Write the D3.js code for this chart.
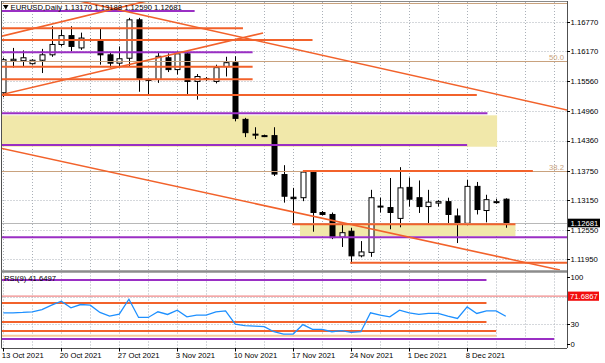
<!DOCTYPE html>
<html>
<head>
<meta charset="utf-8">
<script src="https://cdn.jsdelivr.net/npm/d3@7"></script>
<style>
  html, body { margin: 0; padding: 0; background: #fff; }
  svg { display: block; font-family: "Liberation Sans", Arial, sans-serif; font-size: 7.7px; }
</style>
</head>
<body>
<script>
// daily bars, 13 Oct 2021 .. 13 Dec 2021 (Sunday bars included)
const open = [1.1533, 1.1598, 1.1598, 1.1592, 1.1599, 1.1610, 1.1631, 1.1649, 1.1624, 1.1641,
  1.1637, 1.1610, 1.1593, 1.1603, 1.1681, 1.1558, 1.1560, 1.1604, 1.1580, 1.1612,
  1.1556, 1.1562, 1.1556, 1.1586, 1.1594, 1.1479, 1.1449, 1.1446, 1.1446, 1.1367,
  1.1321, 1.1320, 1.1372, 1.1290, 1.1286, 1.1240, 1.1252, 1.1202, 1.1209, 1.1301,
  1.1300, 1.1278, 1.1341, 1.1320, 1.1302, 1.1309, 1.1312, 1.1283, 1.1268, 1.1343,
  1.1294, 1.1310, 1.13170];
const high = [1.1604, 1.1624, 1.1619, 1.1601, 1.1622, 1.1668, 1.1661, 1.1668, 1.1655, 1.1643,
  1.1664, 1.1614, 1.1627, 1.1685, 1.1685, 1.1562, 1.1616, 1.1613, 1.1617, 1.1616,
  1.1571, 1.1565, 1.1590, 1.1606, 1.1607, 1.1482, 1.1463, 1.1448, 1.1463, 1.1386,
  1.1340, 1.1375, 1.1375, 1.1293, 1.1290, 1.1270, 1.1259, 1.1232, 1.1336, 1.1320,
  1.1360, 1.1382, 1.1361, 1.1355, 1.1336, 1.1315, 1.1320, 1.1298, 1.1356, 1.1352,
  1.1326, 1.1318, 1.13188];
const low = [1.1524, 1.1584, 1.1587, 1.1590, 1.1573, 1.1606, 1.1627, 1.1617, 1.1620, 1.1637,
  1.1590, 1.1584, 1.1584, 1.1587, 1.1535, 1.1530, 1.1553, 1.1575, 1.1570, 1.1529,
  1.1519, 1.1557, 1.1552, 1.1566, 1.1475, 1.1443, 1.1439, 1.1443, 1.1364, 1.1310,
  1.1266, 1.1313, 1.1251, 1.1284, 1.1236, 1.1220, 1.1186, 1.1199, 1.1200, 1.1290,
  1.1256, 1.1260, 1.1302, 1.1289, 1.1265, 1.1302, 1.1268, 1.1228, 1.1264, 1.1286,
  1.1270, 1.1308, 1.12590];
const close = [1.1600, 1.1601, 1.1604, 1.1599, 1.1610, 1.1631, 1.1649, 1.1627, 1.1644, 1.1640,
  1.1610, 1.1593, 1.1602, 1.1681, 1.1560, 1.1560, 1.1607, 1.1580, 1.1612, 1.1556,
  1.1566, 1.1560, 1.1584, 1.1594, 1.1481, 1.1452, 1.1447, 1.1445, 1.1368, 1.1323,
  1.1318, 1.1372, 1.1290, 1.1286, 1.1239, 1.1249, 1.1202, 1.1210, 1.1320, 1.1303,
  1.1290, 1.1340, 1.1317, 1.1302, 1.1311, 1.1312, 1.1286, 1.1269, 1.1343, 1.1296,
  1.1316, 1.1312, 1.12681];
const rsi = [46.8, 46.8, 47.3, 48.3, 51.7, 58.2, 64.2, 54.2, 59.2, 58.2,
  47.3, 41.8, 44.8, 67.2, 39.8, 39.8, 48.3, 44.3, 50.7, 40.8,
  43.3, 43.3, 48.3, 49.7, 29.9, 27.4, 26.9, 25.9, 18.4, 14.9,
  14.9, 29.0, 21.9, 21.9, 18.4, 19.9, 17.4, 18.4, 46.8, 43.3,
  40.8, 50.7, 46.8, 44.3, 45.8, 45.8, 41.8, 38.3, 55.7, 45.8,
  49.7, 49.7, 41.6];

const dateLabels = ["13 Oct 2021", "20 Oct 2021", "27 Oct 2021", "3 Nov 2021", "10 Nov 2021",
  "17 Nov 2021", "24 Nov 2021", "1 Dec 2021", "8 Dec 2021"];
const dateBars = [0, 6, 12, 18, 24, 30, 36, 42, 48];
const priceTicks = [1.16770, 1.16170, 1.15560, 1.14960, 1.14360, 1.13750, 1.13150, 1.12550, 1.11950];
const rsiTicks = [100, 30, 0];

// drawn objects: [price, fromBar, toBar]
const orangeLevels = [[1.16638, -1, 24.8], [1.16401, -1, 32.0], [1.15859, -1, 25.8], [1.15603, -1, 25.8],
  [1.15284, -1, 49.0], [1.13742, 31.0, 54.8], [1.12660, 29.9, 53.0], [1.11881, 35.9, 60]];
const purpleLevels = [[1.16989, -1, 19.8], [1.16151, -1, 25.8], [1.14913, -1, 50.1], [1.14270, -1, 48.0],
  [1.12396, -1, 60]];
const fibLevels = [1.17158, 1.15974, 1.13742];
const fibNames = ["0.0", "50.0", "38.2"];
// [priceTop, priceBottom, fromBar, toBar]
const zones = [[1.14872, 1.14235, -1, 51.1], [1.12646, 1.12423, 30.7, 53.0]];
// [bar1, price1, bar2, price2]
const trendLines = [[-0.34, 1.16468, 15.29, 1.17212], [7.42, 1.17212, 58.34, 1.14980],
  [-0.34, 1.15284, 26.88, 1.16543], [-0.34, 1.14209, 57.6, 1.11732]];
const bid = 1.12681;

// RSI window objects: [value, fromBar, toBar]
const rsiOrange = [[61.5, -1, 50.0], [33.0, -1, 50.0], [19.5, -1, 51.0]];
const rsiPeach = [[12.4, -1, 51.0]];
const rsiPurple = [[96.0, -1, 50.0], [7.5, -1, 57.0]];
const rsiMarker = 71.6867;
const rsiDotted = [70, 30];

const orange = "#f2622b", purple = "#9a2fc4", tan = "#c9a27e", gridC = "#aab0b8";

const plotL = 1.5, plotR = 567, mainT = 2, mainB = 270.5, rsiT = 272.5, rsiB = 348;

const x = d3.scaleLinear().domain([0, 52]).range([3.3, 505.8]);
const y = d3.scaleLinear().domain([1.1195, 1.1677]).range([259.3, 21.8]);
const yr = d3.scaleLinear().domain([0, 100]).range([344, 277.3]);
const px = v => Math.round(v) + 0.5;

const svg = d3.select("body").append("svg").attr("width", 605).attr("height", 363);
const defs = svg.append("defs");
defs.append("clipPath").attr("id", "cm").append("rect")
  .attr("x", plotL).attr("y", mainT).attr("width", plotR - plotL).attr("height", mainB - mainT);
defs.append("clipPath").attr("id", "cr").append("rect")
  .attr("x", plotL).attr("y", rsiT).attr("width", plotR - plotL).attr("height", rsiB - rsiT);

const main = svg.append("g").attr("clip-path", "url(#cm)");
const low2 = svg.append("g").attr("clip-path", "url(#cr)");

// grid
const gridBars = d3.range(0, 61, 3);
[[main, mainT, mainB], [low2, rsiT, rsiB]].forEach(([g, t, b]) => {
  g.selectAll(".vg").data(gridBars).join("line")
    .attr("x1", d => px(x(d))).attr("x2", d => px(x(d)))
    .attr("y1", t).attr("y2", b)
    .attr("stroke", gridC).attr("stroke-width", 1).attr("stroke-dasharray", "1,2");
});
main.selectAll(".hg").data(priceTicks).join("line")
  .attr("x1", plotL).attr("x2", plotR)
  .attr("y1", d => px(y(d))).attr("y2", d => px(y(d)))
  .attr("stroke", gridC).attr("stroke-width", 1).attr("stroke-dasharray", "1,2");

// zones (background)
main.selectAll(".zone").data(zones).join("rect")
  .attr("x", d => x(d[2])).attr("width", d => x(d[3]) - x(d[2]))
  .attr("y", d => y(d[0])).attr("height", d => y(d[1]) - y(d[0]))
  .attr("fill", "#f1e8aa");

// candles
const idx = d3.range(close.length);
main.selectAll(".wick").data(idx).join("line")
  .attr("x1", i => px(x(i))).attr("x2", i => px(x(i)))
  .attr("y1", i => y(high[i])).attr("y2", i => y(low[i]))
  .attr("stroke", "#000").attr("stroke-width", 1);
main.selectAll(".body").data(idx).join("rect")
  .attr("x", i => Math.round(x(i)) - 2)
  .attr("width", 5)
  .attr("y", i => y(Math.max(open[i], close[i])))
  .attr("height", i => Math.max(1, Math.abs(y(open[i]) - y(close[i]))))
  .attr("fill", i => close[i] >= open[i] ? "#fff" : "#000")
  .attr("stroke", "#000").attr("stroke-width", 1);

// fibo levels
main.selectAll(".fib").data(fibLevels).join("line")
  .attr("x1", plotL).attr("x2", plotR)
  .attr("y1", d => px(y(d))).attr("y2", d => px(y(d)))
  .attr("stroke", tan).attr("stroke-width", 1);
main.selectAll(".fibt").data(fibLevels).join("text")
  .attr("x", plotR - 3).attr("y", d => y(d) - 1.5)
  .attr("text-anchor", "end").attr("fill", tan)
  .text((d, i) => fibNames[i]);

// bid line
main.append("line")
  .attr("x1", plotL).attr("x2", plotR)
  .attr("y1", px(y(bid))).attr("y2", px(y(bid)))
  .attr("stroke", "#b8b8b8").attr("stroke-width", 1);

// horizontal objects
function levels(g, data, sc, color, w) {
  g.append("g").selectAll("line").data(data).join("line")
    .attr("x1", d => x(d[1])).attr("x2", d => x(d[2]))
    .attr("y1", d => sc(d[0])).attr("y2", d => sc(d[0]))
    .attr("stroke", color).attr("stroke-width", w);
}
levels(main, purpleLevels, y, purple, 2);
levels(main, orangeLevels, y, orange, 2);

// trend lines
main.selectAll(".trend").data(trendLines).join("line")
  .attr("x1", d => x(d[0])).attr("y1", d => y(d[1]))
  .attr("x2", d => x(d[2])).attr("y2", d => y(d[3]))
  .attr("stroke", orange).attr("stroke-width", 1.6);

// RSI window
low2.selectAll(".lvl").data(rsiDotted).join("line")
  .attr("x1", plotL).attr("x2", plotR)
  .attr("y1", d => px(yr(d))).attr("y2", d => px(yr(d)))
  .attr("stroke", gridC).attr("stroke-width", 1).attr("stroke-dasharray", "1,2");
low2.append("line")
  .attr("x1", plotL).attr("x2", plotR)
  .attr("y1", yr(rsiMarker)).attr("y2", yr(rsiMarker))
  .attr("stroke", "#f08a8a").attr("stroke-width", 1.3);
levels(low2, rsiPeach, yr, "#f6c99a", 2);
levels(low2, rsiOrange, yr, orange, 2);
levels(low2, rsiPurple, yr, purple, 2);
low2.append("path")
  .datum(idx)
  .attr("d", d3.line().x(i => x(i)).y(i => yr(rsi[i])))
  .attr("fill", "none").attr("stroke", "#1e90ff").attr("stroke-width", 1.3);

// frames
const frame = svg.append("g").attr("stroke", "#505050").attr("fill", "none");
frame.append("line").attr("x1", plotL).attr("x2", plotR).attr("y1", 1.5).attr("y2", 1.5).attr("stroke", "#8a8a8a");
frame.append("line").attr("x1", plotL).attr("x2", plotL).attr("y1", 1).attr("y2", rsiB);
frame.append("line").attr("x1", plotR + 0.5).attr("x2", plotR + 0.5).attr("y1", 1).attr("y2", rsiB);
frame.append("line").attr("x1", plotL).attr("x2", plotR).attr("y1", 271.5).attr("y2", 271.5)
  .attr("stroke", "#8c8c8c").attr("stroke-width", 2.5);
frame.append("line").attr("x1", plotL).attr("x2", plotR).attr("y1", rsiB + 0.5).attr("y2", rsiB + 0.5);

// price axis
const pAxis = svg.append("g");
pAxis.selectAll("line").data(priceTicks).join("line")
  .attr("x1", plotR).attr("x2", plotR + 3)
  .attr("y1", d => px(y(d))).attr("y2", d => px(y(d)))
  .attr("stroke", "#000");
pAxis.selectAll("text").data(priceTicks).join("text")
  .attr("x", plotR + 3.5).attr("y", d => y(d) + 2.9)
  .text(d => d.toFixed(5));
pAxis.append("rect")
  .attr("x", plotR + 1).attr("y", y(bid) - 4.6).attr("width", 32).attr("height", 8.6)
  .attr("fill", "#000");
pAxis.append("text")
  .attr("x", plotR + 3.5).attr("y", y(bid) + 2.6).attr("fill", "#fff")
  .text(bid.toFixed(5));

// RSI axis
const rAxis = svg.append("g");
rAxis.selectAll("line").data(rsiTicks).join("line")
  .attr("x1", plotR).attr("x2", plotR + 3)
  .attr("y1", d => px(yr(d))).attr("y2", d => px(yr(d)))
  .attr("stroke", "#000");
rAxis.selectAll("text").data(rsiTicks).join("text")
  .attr("x", plotR + 3.5).attr("y", d => yr(d) + 2.7)
  .text(d => d);
rAxis.append("rect")
  .attr("x", plotR + 1).attr("y", yr(rsiMarker) - 4.6).attr("width", 31).attr("height", 9.2)
  .attr("fill", "#f20d0d");
rAxis.append("text")
  .attr("x", plotR + 3).attr("y", yr(rsiMarker) + 2.7).attr("fill", "#fff")
  .text(rsiMarker.toFixed(4));

// time axis
const tAxis = svg.append("g");
tAxis.selectAll("line").data(dateBars).join("line")
  .attr("x1", d => px(x(d))).attr("x2", d => px(x(d)))
  .attr("y1", rsiB).attr("y2", rsiB + 3.5)
  .attr("stroke", "#000");
tAxis.selectAll("text").data(dateBars).join("text")
  .attr("x", d => x(d) - 1.5).attr("y", 358)
  .text((d, i) => dateLabels[i]);

// captions
svg.append("path").attr("d", "M3,5 L8.5,5 L5.75,9.5 Z").attr("fill", "#000");
svg.append("text").attr("x", 10.5).attr("y", 9.8)
  .text("EURUSD,Daily  1.13170 1.13188 1.12590 1.12681");
svg.append("text").attr("x", 4).attr("y", 280.5)
  .text("RSI(9) " + "41.6497");
</script>
</body>
</html>
